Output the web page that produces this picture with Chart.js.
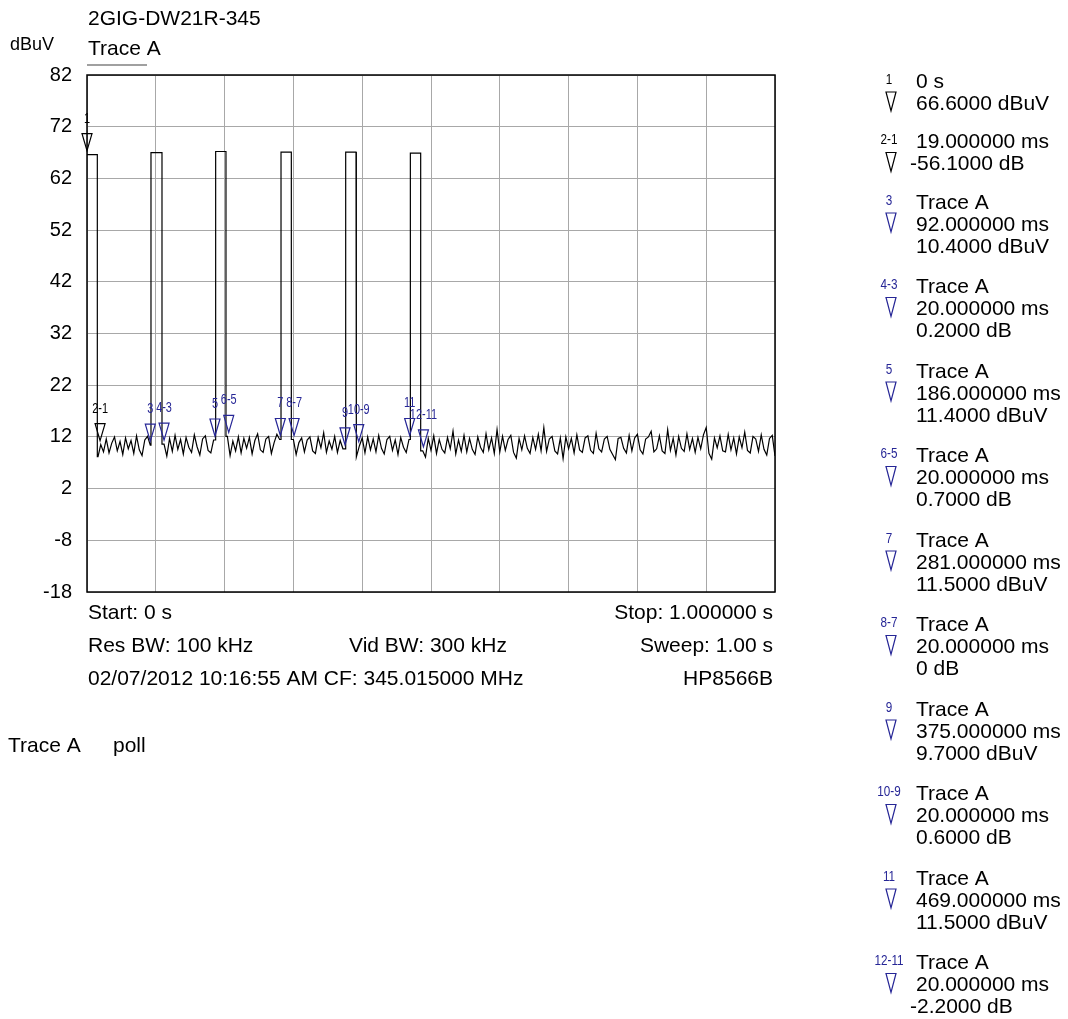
<!DOCTYPE html>
<html>
<head>
<meta charset="utf-8">
<title>2GIG-DW21R-345</title>
<script src="https://cdn.jsdelivr.net/npm/chart.js@4"></script>
<style>
    html, body { margin: 0; padding: 0; background: #fff; }
    #wrap { position: relative; width: 1068px; height: 1019px; }
</style>
</head>
<body>
<div id="wrap"><canvas id="traceChart"></canvas></div>
<script>
// Trace A, 0..1 s sweep, one noise reading every 4 ms (null where a burst covers it)
var sweepStep = 0.004;
var noiseFloor = [
    null, null, null, null, 8.2, 10.5, 9.1, 11.6, 8.9, 10.8,
    12.0, 9.3, 11.1, 8.6, 11.8, 9.7, 11.3, 8.8, 12.2, 9.5,
    8.4, 11.4, 12.1, 10.4, null, null, null, null, 10.6, 8.3,
    11.7, 9.2, 12.3, 9.6, 11.5, 8.7, 11.9, 10.0, 9.0, 12.4,
    10.1, 8.5, 11.6, 12.2, 9.4, 8.9, 11.4, null, null, null,
    null, 12.1, 8.4, 11.2, 9.3, 12.0, 8.9, 11.7, 9.8, 11.9,
    8.7, 11.3, 12.6, 9.5, 9.0, 11.6, 12.1, 8.8, 10.9, 12.5,
    11.5, null, null, null, null, 11.5, 8.6, 10.9, 11.8, 9.1,
    11.4, 12.0, 9.3, 8.8, 11.9, 9.9, 12.8, 9.0, 11.2, 9.6,
    12.1, 9.0, 11.3, 9.7, null, null, null, null, 8.1, 10.3,
    11.8, 8.9, 12.0, 9.5, 11.6, 9.1, 12.3, 9.8, 8.7, 11.5,
    12.1, 9.4, 11.4, 8.6, 11.9, 10.0, 9.0, 11.5, null, null,
    null, null, 9.3, 8.1, 11.7, 9.4, 12.2, 8.8, 11.5, 9.6,
    8.9, 11.9, 9.7, 13.1, 8.7, 11.4, 9.2, 12.3, 9.1, 11.7,
    9.6, 8.6, 12.0, 10.0, 9.0, 12.6, 9.5, 11.8, 8.8, 13.4,
    9.1, 12.1, 9.4, 11.5, 12.3, 9.0, 7.9, 11.7, 9.5, 12.2,
    9.8, 8.8, 11.9, 9.6, 12.5, 9.3, 13.8, 9.2, 11.6, 12.1,
    9.3, 8.7, 11.8, 7.8, 12.0, 9.7, 11.7, 8.9, 12.4, 9.5,
    9.0, 11.8, 12.2, 9.4, 8.8, 12.7, 9.7, 9.1, 11.6, 12.1,
    9.6, 8.6, 7.6, 11.7, 11.9, 9.8, 8.9, 12.3, 9.3, 11.8,
    12.5, 9.5, 8.7, 11.6, 12.0, 13.1, 9.1, 9.7, 12.2, 9.3,
    8.8, 13.4, 9.4, 11.7, 8.5, 12.1, 9.8, 9.2, 12.6, 9.6,
    11.7, 9.0, 11.9, 9.7, 12.4, 13.8, 8.8, 7.7, 11.8, 9.9,
    12.2, 9.3, 9.1, 12.5, 9.5, 11.8, 8.7, 12.0, 9.9, 12.9,
    9.4, 8.9, 12.1, 11.6, 9.2, 12.4, 9.6, 8.5, 11.7, 12.3,
    8.3
];

// the six bursts (s, dBuV)
var burstStart = [0, 0.093, 0.187, 0.282, 0.376, 0.470];
var burstEnd = [0.015, 0.109, 0.202, 0.297, 0.391, 0.485];
var burstLevel = [66.6, 67.0, 67.2, 67.1, 67.1, 66.9];

var yTicks = [-18, -8, 2, 12, 22, 32, 42, 52, 62, 72, 82];
var xGrid = [0, 0.1, 0.2, 0.3, 0.4, 0.5, 0.6, 0.7, 0.8, 0.9, 1.0];

// markers
var markerNames = ['1', '2-1', '3', '4-3', '5', '6-5', '7', '8-7', '9', '10-9', '11', '12-11'];
var markerTimes = [0, 0.019, 0.092, 0.112, 0.186, 0.206, 0.281, 0.301, 0.375, 0.395, 0.469, 0.489];
var markerLevels = [66.6, 10.5, 10.4, 10.6, 11.4, 12.1, 11.5, 11.5, 9.7, 10.3, 11.5, 9.3];
var markerReadouts = [
    ['0 s', '66.6000 dBuV'],
    ['19.000000 ms', '-56.1000 dB'],
    ['Trace A', '92.000000 ms', '10.4000 dBuV'],
    ['Trace A', '20.000000 ms', '0.2000 dB'],
    ['Trace A', '186.000000 ms', '11.4000 dBuV'],
    ['Trace A', '20.000000 ms', '0.7000 dB'],
    ['Trace A', '281.000000 ms', '11.5000 dBuV'],
    ['Trace A', '20.000000 ms', '0 dB'],
    ['Trace A', '375.000000 ms', '9.7000 dBuV'],
    ['Trace A', '20.000000 ms', '0.6000 dB'],
    ['Trace A', '469.000000 ms', '11.5000 dBuV'],
    ['Trace A', '20.000000 ms', '-2.2000 dB']
];

var sans = '"Liberation Sans", Arial, Helvetica, sans-serif';
var markerBlue = '#262696';

// build the trace: noise samples plus vertical burst edges
var tracePoints = [];
noiseFloor.forEach(function(v, i) {
    if (v !== null) tracePoints.push({ x: i * sweepStep, y: v });
});
burstStart.forEach(function(t0, k) {
    var t1 = burstEnd[k];
    var before = null, after = null;
    noiseFloor.forEach(function(v, i) {
        var t = i * sweepStep;
        if (v === null) return;
        if (t < t0) before = v;
        if (t > t1 && after === null) after = v;
    });
    if (t0 > 0 && before !== null) tracePoints.push({ x: t0, y: before });
    tracePoints.push({ x: t0, y: burstLevel[k] });
    tracePoints.push({ x: t1, y: burstLevel[k] });
    tracePoints.push({ x: t1, y: after });
});
tracePoints.sort(function(a, b) { return a.x - b.x; });

function downTriangle(ctx, cx, tipY, w, h) {
    ctx.beginPath();
    ctx.moveTo(cx - w / 2, tipY - h);
    ctx.lineTo(cx + w / 2, tipY - h);
    ctx.lineTo(cx, tipY);
    ctx.closePath();
    ctx.stroke();
}

// small condensed marker number
function narrowText(ctx, txt, cx, y, size) {
    ctx.save();
    ctx.translate(cx, y);
    ctx.scale(0.78, 1);
    ctx.font = size + 'px ' + sans;
    ctx.textAlign = 'center';
    ctx.fillText(txt, 0, 0);
    ctx.restore();
}

var framePlugin = {
    id: 'frame',
    afterDatasetsDraw: function(chart) {
        var a = chart.chartArea, ctx = chart.ctx;
        ctx.save();
        ctx.strokeStyle = '#000';
        ctx.lineWidth = 1.5;
        ctx.strokeRect(a.left, a.top, a.right - a.left, a.bottom - a.top);
        ctx.restore();
    }
};

var markerPlugin = {
    id: 'markers',
    afterDatasetsDraw: function(chart) {
        var ctx = chart.ctx, xs = chart.scales.x, ys = chart.scales.y;
        ctx.save();
        ctx.lineWidth = 1.2;
        ctx.textBaseline = 'alphabetic';
        markerNames.forEach(function(name, i) {
            var color = i < 2 ? '#000' : markerBlue;
            var px = xs.getPixelForValue(markerTimes[i]);
            var tip = ys.getPixelForValue(markerLevels[i]) - 4;
            ctx.strokeStyle = color;
            ctx.fillStyle = color;
            downTriangle(ctx, px, tip, 10, 17);
            narrowText(ctx, name, px, tip - 17 - 11, 14);
        });
        ctx.restore();
    }
};

var textPlugin = {
    id: 'texts',
    afterDraw: function(chart) {
        var ctx = chart.ctx, a = chart.chartArea;
        ctx.save();
        ctx.fillStyle = '#000';
        ctx.textBaseline = 'alphabetic';

        // header
        ctx.textAlign = 'left';
        ctx.font = '21px ' + sans;
        ctx.fillText('2GIG-DW21R-345', a.left + 1, 25);
        ctx.fillText('Trace A', a.left + 1, 55);
        ctx.font = '18px ' + sans;
        ctx.fillText('dBuV', 10, 50);
        ctx.strokeStyle = '#808080';
        ctx.lineWidth = 1.5;
        ctx.beginPath();
        ctx.moveTo(a.left, 65);
        ctx.lineTo(a.left + 60, 65);
        ctx.stroke();

        // footer
        ctx.font = '21px ' + sans;
        ctx.fillText('Start: 0 s', a.left + 1, 619);
        ctx.fillText('Res BW: 100 kHz', a.left + 1, 652);
        ctx.fillText('Vid BW: 300 kHz', 349, 652);
        ctx.fillText('02/07/2012 10:16:55 AM CF: 345.015000 MHz', a.left + 1, 685);
        ctx.textAlign = 'right';
        ctx.fillText('Stop: 1.000000 s', a.right - 2, 619);
        ctx.fillText('Sweep: 1.00 s', a.right - 2, 652);
        ctx.fillText('HP8566B', a.right - 2, 685);
        ctx.textAlign = 'left';
        ctx.fillText('Trace A', 8, 752);
        ctx.fillText('poll', 113, 752);

        // marker table on the right
        var y = 80;
        markerNames.forEach(function(name, i) {
            var lines = markerReadouts[i];
            var color = i < 2 ? '#000' : markerBlue;
            ctx.font = '21px ' + sans;
            ctx.fillStyle = '#000';
            ctx.textAlign = 'left';
            lines.forEach(function(txt, j) {
                var tx = 916;
                if (txt.charAt(0) === '-') tx -= 6;
                ctx.fillText(txt, tx, y + j * 22 + 7.5);
            });
            ctx.fillStyle = color;
            narrowText(ctx, name, 889, y + 3.5, 15);
            ctx.strokeStyle = color;
            ctx.lineWidth = 1.2;
            downTriangle(ctx, 891, y + 22 + 9, 10, 19);
            y += lines.length === 2 ? 60.5 : 84.5;
        });
        ctx.restore();
    }
};

document.addEventListener('DOMContentLoaded', function() {
    var ctx = document.getElementById('traceChart').getContext('2d');
    var traceChart = new Chart(ctx, {
        type: 'line',
        data: {
            datasets: [{
                label: 'Trace A',
                data: tracePoints,
                borderColor: '#000',
                borderWidth: 1.2,
                pointRadius: 0,
                tension: 0,
                fill: false
            }]
        },
        options: {
            responsive: true,
            maintainAspectRatio: false,
            animation: false,
            events: [],
            layout: {
                padding: { left: 0, top: 75, right: 293, bottom: 427 }
            },
            plugins: {
                legend: { display: false },
                tooltip: { enabled: false },
                title: { display: false }
            },
            scales: {
                x: {
                    type: 'linear',
                    min: 0,
                    max: 1,
                    afterBuildTicks: function(s) { s.ticks = xGrid.map(function(v) { return { value: v }; }); },
                    afterFit: function(s) { s.height = 0; },
                    ticks: { display: false },
                    grid: { color: '#a8a8a8', lineWidth: 1, drawTicks: false },
                    border: { display: false }
                },
                y: {
                    min: -18,
                    max: 82,
                    afterBuildTicks: function(s) { s.ticks = yTicks.map(function(v) { return { value: v }; }); },
                    afterFit: function(s) { s.width = 87; },
                    ticks: {
                        color: '#000',
                        padding: 15,
                        font: { family: sans, size: 20 }
                    },
                    grid: { color: '#a8a8a8', lineWidth: 1, drawTicks: false },
                    border: { display: false }
                }
            }
        },
        plugins: [framePlugin, markerPlugin, textPlugin]
    });
});
</script>
</body>
</html>
